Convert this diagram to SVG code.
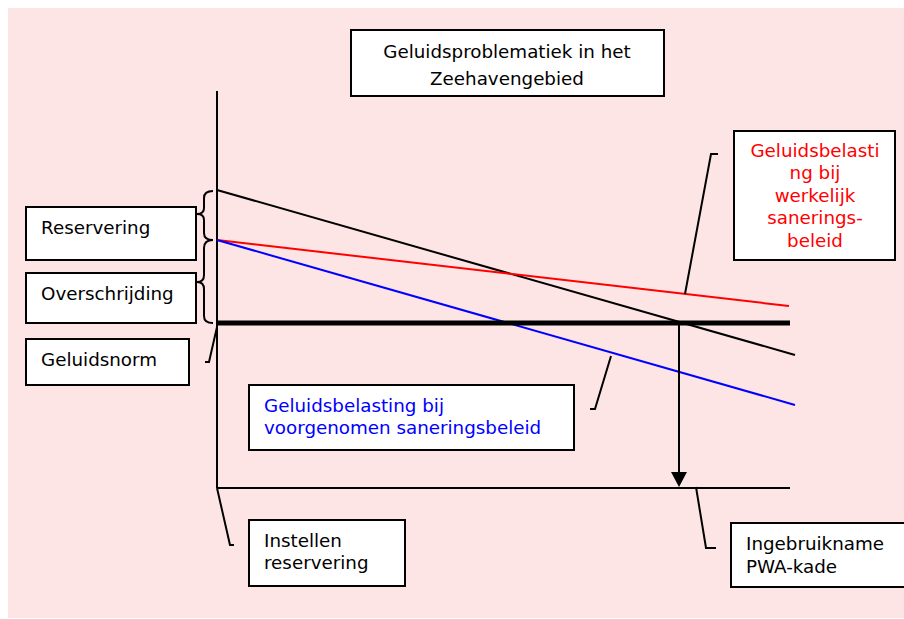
<svg xmlns="http://www.w3.org/2000/svg" width="904" height="619" viewBox="0 0 904 619">
<style>
.box{fill:#fff;stroke:#000;stroke-width:2}
.t{font-family:"DejaVu Sans",Verdana,sans-serif;font-size:18.3px;fill:#000}
.ln{fill:none;stroke:#000;stroke-width:2}
</style>
<rect x="8" y="8" width="896" height="610" fill="#fde5e5"/>
<g id="connectors">
<line class="ln" x1="217" y1="91" x2="217" y2="488"/>
<line class="ln" x1="217" y1="488" x2="790" y2="488"/>
<line x1="217" y1="190" x2="795" y2="355" stroke="#000" stroke-width="2"/>
<line x1="217" y1="240" x2="789" y2="306" stroke="#ff0000" stroke-width="2"/>
<line x1="217" y1="240" x2="795" y2="405" stroke="#0000ff" stroke-width="2"/>
<line x1="217" y1="323" x2="790" y2="323" stroke="#000" stroke-width="5"/>
<line x1="679" y1="323" x2="679" y2="472" stroke="#000" stroke-width="2"/>
<path d="M671,472 L687,472 L679,487 Z" fill="#000"/>
<path class="ln" d="M213,191 Q204,191 204,198 L204,208 Q204,214 197,214 Q204,214 204,220 L204,233 Q204,240 213,240"/>
<path class="ln" d="M213,240 Q204,240 204,248 L204,275 Q204,282 197,282 Q204,282 204,289 L204,316 Q204,323 213,323"/>
<path class="ln" d="M217,327 L209,362 L205,362"/>
<path class="ln" d="M685,294 L711,154 L718,154"/>
<path class="ln" d="M611,356 L595,409 L590,409"/>
<path class="ln" d="M217,488 L230,545 L234,545"/>
<path class="ln" d="M696,487 L706,548 L716,548"/>
</g>
<g id="title">
<rect class="box" x="351" y="30" width="313" height="66"/>
<text class="t" x="507" y="58" text-anchor="middle">Geluidsproblematiek in het</text>
<text class="t" x="507" y="85" text-anchor="middle">Zeehavengebied</text>
</g>
<g id="reservering">
<rect class="box" x="26" y="207" width="170" height="53"/>
<text class="t" x="41" y="234">Reservering</text>
</g>
<g id="overschrijding">
<rect class="box" x="26" y="273" width="170" height="50"/>
<text class="t" x="41" y="300">Overschrijding</text>
</g>
<g id="geluidsnorm">
<rect class="box" x="26" y="339" width="163" height="46"/>
<text class="t" x="41" y="366">Geluidsnorm</text>
</g>
<g id="werkelijk">
<rect class="box" x="734" y="131" width="161" height="129"/>
<g class="t" style="fill:#ff0000" text-anchor="middle">
<text x="815" y="157">Geluidsbelasti</text>
<text x="815" y="179">ng bij</text>
<text x="815" y="202">werkelijk</text>
<text x="815" y="224">sanerings-</text>
<text x="815" y="247">beleid</text>
</g>
</g>
<g id="voorgenomen">
<rect class="box" x="249" y="385" width="325" height="65"/>
<text class="t" style="fill:#0000ff" x="264" y="412">Geluidsbelasting bij</text>
<text class="t" style="fill:#0000ff" x="264" y="434">voorgenomen saneringsbeleid</text>
</g>
<g id="instellen">
<rect class="box" x="249" y="520" width="156" height="66"/>
<text class="t" x="264" y="547">Instellen</text>
<text class="t" x="264" y="569">reservering</text>
</g>
<g id="ingebruikname">
<rect class="box" x="731" y="523" width="180" height="64"/>
<text class="t" x="746" y="550">Ingebruikname</text>
<text class="t" x="746" y="573">PWA-kade</text>
</g>
</svg>
